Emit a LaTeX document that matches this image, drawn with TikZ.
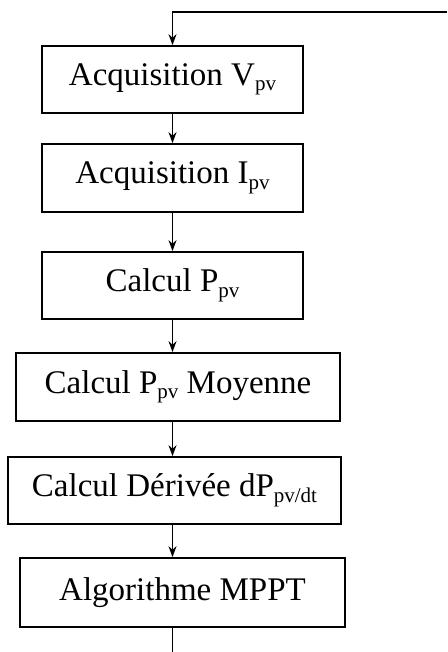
\documentclass[tikz,border=0pt]{standalone}
\usepackage{fontspec}
\setmainfont{Liberation Serif}
\usetikzlibrary{arrows.meta}
% lowered, smaller subscript text
\newcommand{\lowsub}[1]{\raisebox{-5.5pt}{\fontsize{21}{21}\selectfont #1}}
\begin{document}
\begin{tikzpicture}[x=1pt,y=-1pt,
  stepbox/.style={draw,line width=1.7pt,rectangle,inner sep=0pt,
    font=\fontsize{33}{36}\selectfont},
  flow/.style={line width=1.5pt,-{Stealth[length=11pt,width=8pt]}},
  plain/.style={line width=1.5pt}]
\useasboundingbox (0,0) rectangle (447,652);
\node[stepbox,minimum width=261pt,minimum height=67pt] (b1) at (172.5,79.5) {Acquisition V\lowsub{pv}};
\node[stepbox,minimum width=261pt,minimum height=68pt] (b2) at (172.5,178) {Acquisition I\lowsub{pv}};
\node[stepbox,minimum width=261pt,minimum height=67pt] (b3) at (172.5,285.5) {Calcul P\lowsub{pv}};
\node[stepbox,minimum width=324pt,minimum height=68pt] (b4) at (178,387) {Calcul P\lowsub{pv} Moyenne};
\node[stepbox,minimum width=333pt,minimum height=67pt] (b5) at (174.5,490.5) {Calcul Dérivée dP\lowsub{pv/dt}};
\node[stepbox,minimum width=325pt,minimum height=69pt] (b6) at (182.5,592.5) {Algorithme MPPT};
\coordinate (loopin) at (447,12);
\coordinate (loopout) at (172.5,652);
\draw[flow] (loopin) -- (loopin -| b1.north) -- (b1.north);
\draw[flow] (b1.south) -- (b2.north);
\draw[flow] (b2.south) -- (b3.north);
\draw[flow] (b3.south) -- (b3.south |- b4.north);
\draw[flow] (b4.south -| b3.south) -- (b3.south |- b5.north);
\draw[flow] (b5.south -| b3.south) -- (b3.south |- b6.north);
\draw[plain] (b6.south -| loopout) -- (loopout);
\end{tikzpicture}
\end{document}
